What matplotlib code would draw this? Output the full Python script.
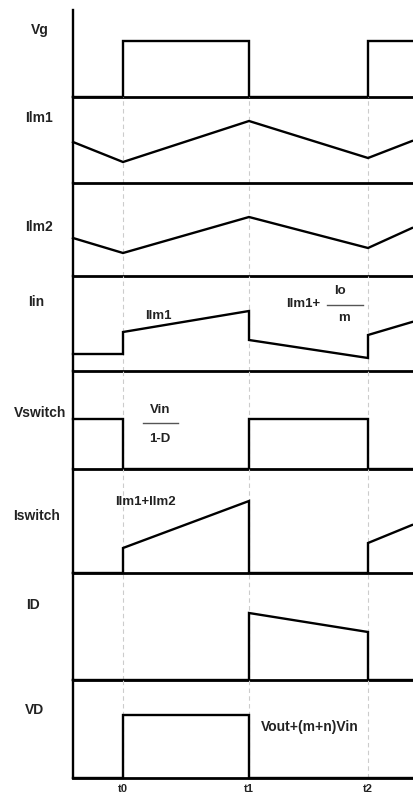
import matplotlib.pyplot as plt
from matplotlib.lines import Line2D

W, H = 414, 798
fig = plt.figure(figsize=(W / 100, H / 100), dpi=100)
plt.rcParams['font.family'] = ['Liberation Sans', 'DejaVu Sans']

# time axis (arbitrary units, t0/t1/t2 switching instants)
t0, t1, t2, t_end = 50, 176, 295, 339
tick_pos = [t0, t1, t2]
tick_labels = ['t0', 't1', 't2']

# waveforms (height above each panel's baseline)
step_t = [0, t0, t0, t1, t1, t2, t2, t_end]
ramp_t = [0, t0, t1, t2, t_end]

vg = [0, 0, 56, 56, 0, 0, 56, 56]
ilm1 = [41, 21, 62, 25, 42]
ilm2 = [38, 23, 59, 28, 48]
iin = [17, 17, 39, 60, 31, 13, 36, 49]
vswitch = [50, 50, 0, 0, 50, 50, 0, 0]
iswitch = [0, 0, 25, 72, 0, 0, 30, 48]
i_d = [0, 0, 0, 0, 67, 48, 0, 0]
v_d = [0, 0, 63, 63, 0, 0, 0, 0]

names = ['Vg', 'Ilm1', 'Ilm2', 'Iin', 'Vswitch', 'Iswitch', 'ID', 'VD']
series = [(step_t, vg), (ramp_t, ilm1), (ramp_t, ilm2), (step_t, iin),
          (step_t, vswitch), (step_t, iswitch), (step_t, i_d), (step_t, v_d)]

# panel boundaries in pixels (top of first panel, then each baseline)
bounds = [10, 97, 183, 276, 371, 469, 573, 680, 778]
label_pos = [(40, 30), (39, 118), (39, 227), (36, 302),
             (40, 413), (37, 516), (33, 605), (35, 710)]

x0, x1 = 73, 412
lw = 1.7
axes = []
for i, (name, (t, v)) in enumerate(zip(names, series)):
    top, base = bounds[i], bounds[i + 1]
    ax = fig.add_axes([x0 / W, 1 - base / H, (x1 - x0) / W, (base - top) / H])
    ax.set_xlim(0, t_end)
    ax.set_ylim(0, base - top)
    if i > 0:
        for tp in tick_pos:
            ax.axvline(tp, color='#cccccc', lw=0.8, dashes=(4, 3), zorder=1)
    ax.plot(t, v, color='black', lw=lw, clip_on=False, zorder=3,
            solid_joinstyle='miter')
    for s in ['top', 'right']:
        ax.spines[s].set_visible(False)
    ax.spines['left'].set_linewidth(lw)
    ax.spines['bottom'].set_linewidth(lw + 0.3)
    ax.set_yticks([])
    ax.set_xticks([])
    ax.patch.set_alpha(0)
    lx, ly = label_pos[i]
    fig.text(lx / W, 1 - ly / H, name, ha='center', va='center',
             fontsize=10, fontweight='bold', color='#222222')
    axes.append(ax)

axes[-1].set_xticks(tick_pos)
axes[-1].set_xticklabels(tick_labels, fontsize=8, fontweight='bold',
                         color='#222222')
axes[-1].tick_params(length=0, pad=4)


def ftext(x, y, s, size=9.5):
    fig.text(x / W, 1 - y / H, s, ha='center', va='center',
             fontsize=size, fontweight='bold', color='#222222')


def fline(xa, xb, y):
    fig.add_artist(Line2D([xa / W, xb / W], [1 - y / H, 1 - y / H],
                          color='#555555', lw=1.0))


ftext(158, 316, 'Ilm1')
ftext(303, 304, 'Ilm1+')
ftext(340, 291, 'Io')
fline(327, 363, 305)
ftext(344, 318, 'm')
ftext(160, 410, 'Vin')
fline(143, 178, 423)
ftext(160, 439, '1-D')
ftext(145, 502, 'Ilm1+Ilm2')
ftext(310, 727, 'Vout+(m+n)Vin', size=10)

fig.savefig('out.png', dpi=100)
